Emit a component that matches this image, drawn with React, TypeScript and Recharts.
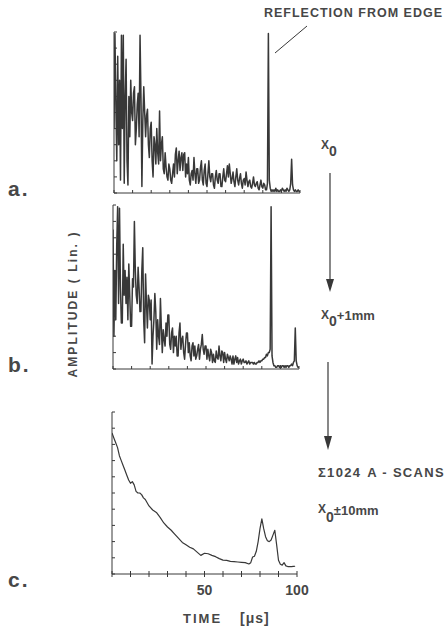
import React from 'react';
import { LineChart, Line, XAxis, YAxis } from 'recharts';

// A-scans, one sample every 0.5 µs, amplitude in % of full screen height
const SAMPLE_US = 0.5;

const scanA = [
  40, 99, 55, 20, 85, 30, 70, 8, 98, 40,
  98, 6, 60, 83, 20, 5, 60, 35, 70, 50,
  45, 62, 66, 30, 40, 55, 62, 35, 98, 60,
  4, 45, 66, 50, 35, 48, 52, 30, 22, 40,
  44, 20, 10, 35, 30, 18, 40, 25, 18, 51,
  20, 30, 35, 15, 12, 25, 16, 10, 8, 18,
  15, 8, 6, 12, 18, 10, 24, 28, 12, 20,
  26, 14, 22, 25, 14, 24, 25, 10, 18, 12,
  22, 8, 5, 12, 14, 8, 22, 12, 6, 15,
  15, 6, 8, 16, 20, 8, 5, 14, 18, 6,
  4, 12, 20, 10, 7, 12, 12, 5, 3, 10,
  14, 8, 6, 12, 12, 4, 4, 10, 15, 8,
  7, 12, 17, 10, 18, 12, 6, 9, 13, 7,
  4, 10, 15, 8, 5, 9, 12, 6, 3, 8,
  9, 5, 13, 8, 4, 7, 8, 4, 3, 6,
  10, 5, 4, 6, 7, 3, 2, 5, 8, 4,
  3, 6, 5, 2, 2, 6, 99, 8, 3, 1,
  2, 1, 2, 1, 3, 1, 2, 1, 1, 2,
  1, 3, 2, 1, 2, 1, 3, 2, 1, 2,
  6, 21, 5, 2, 1, 2, 1, 1, 2, 1,
  1,
];

const scanB = [
  85, 20, 60, 30, 75, 99, 40, 98, 50, 28,
  28, 76, 45, 60, 40, 56, 30, 64, 45, 26,
  26, 55, 50, 90, 60, 45, 40, 62, 50, 35,
  35, 60, 74, 30, 16, 58, 40, 25, 45, 42,
  30, 42, 3, 20, 30, 46, 35, 12, 30, 20,
  15, 43, 25, 10, 24, 18, 14, 28, 20, 33,
  33, 15, 12, 22, 25, 10, 20, 14, 20, 8,
  8, 22, 28, 12, 18, 20, 10, 6, 15, 22,
  22, 10, 16, 8, 5, 14, 16, 8, 14, 6,
  8, 12, 15, 6, 12, 15, 21, 12, 9, 14,
  14, 6, 12, 8, 5, 12, 10, 4, 9, 5,
  4, 11, 7, 6, 14, 8, 5, 11, 10, 4,
  10, 6, 4, 9, 7, 5, 8, 6, 3, 8,
  3, 6, 8, 4, 7, 3, 5, 6, 3, 5,
  6, 4, 4, 5, 3, 4, 5, 3, 4, 4,
  4, 3, 4, 3, 3, 4, 4, 5, 4, 5,
  5, 6, 6, 7, 7, 9, 8, 10, 10, 12,
  99, 8, 4, 2, 2, 1, 1, 2, 2, 1,
  2, 1, 2, 2, 1, 2, 1, 2, 2, 1,
  2, 2, 3, 2, 4, 5, 25, 5, 2, 1,
  1,
];

// sum of 1024 A-scans over x0 ± 10 mm
const sumTime = [
  0, 1, 2, 3, 4, 5, 6, 7, 8, 9, 10, 11, 12, 13, 14, 15, 16, 17, 18, 19, 20,
  22, 24, 26, 28, 30, 32, 34, 36, 38, 40, 42, 44, 46, 48, 50, 52, 54, 56, 58,
  60, 62, 64, 66, 68, 70, 72, 74, 75, 76, 77, 78, 79, 80, 81, 82, 83, 84, 85,
  86, 87, 88, 89, 90, 91, 92, 93, 94, 95, 96, 97, 98, 99,
];
const sumAmp = [
  87, 84, 81, 78, 73, 70, 67, 64, 61, 58, 56, 57, 55, 51, 50, 50, 49, 47, 46, 44, 42,
  39.5, 38, 35, 31.5, 29, 27, 24.5, 22, 19.5, 18, 16.5, 15.5, 13.5, 11.5, 12.8, 12.5, 11.5, 10.7, 9.5,
  8.6, 8.4, 7.8, 7.6, 7.4, 7.2, 7, 6.2, 7, 10.5, 11, 14, 20, 28, 34, 28, 23, 20.5, 20,
  21, 24, 27, 18, 8.5, 6, 5.5, 7, 5, 4.6, 4.5, 4.6, 4.7, 4.8,
];

const timeTicks = [0, 10, 20, 30, 40, 50, 60, 70, 80, 90, 100];
const ampTicks = [0, 10, 20, 30, 40, 50, 60, 70, 80, 90, 100];
const timeLabels = [50, 100];

const INK = '#383838';
const TEXT = '#474747';
const FONT = '"Liberation Sans", Arial, sans-serif';

const dataA = scanA.map((v, i) => ({ t: i * SAMPLE_US, v }));
const dataB = scanB.map((v, i) => ({ t: i * SAMPLE_US, v }));
const dataC = sumTime.map((t, i) => ({ t, v: sumAmp[i] }));

const NoLabel = () => <g />;

const TimeTick = (props: any) => {
  const { x, y, payload } = props;
  if (!timeLabels.includes(payload.value)) return <g />;
  return (
    <text
      x={x}
      y={y}
      dy="0.71em"
      textAnchor="middle"
      fontFamily={FONT}
      fontWeight="bold"
      fontSize={14}
      fill={TEXT}
    >
      {payload.value}
    </text>
  );
};

function Scan({ data, top, height, margin, width = 1.5, children }: any) {
  return (
    <div style={{ position: 'absolute', left: 0, top, width: 448, height }}>
      <LineChart width={448} height={height} data={data} margin={margin}>
        <XAxis
          xAxisId="in"
          type="number"
          dataKey="t"
          domain={[0, 100]}
          ticks={timeTicks}
          interval={0}
          allowDataOverflow
          mirror
          tick={NoLabel}
          tickSize={3}
          stroke={INK}
        />
        {children}
        <YAxis
          type="number"
          domain={[0, 100]}
          ticks={ampTicks}
          interval={0}
          allowDataOverflow
          mirror
          tick={NoLabel}
          tickSize={3}
          stroke={INK}
        />
        <Line
          xAxisId="in"
          dataKey="v"
          type="linear"
          stroke={INK}
          strokeWidth={width}
          strokeLinejoin="round"
          dot={false}
          isAnimationActive={false}
        />
      </LineChart>
    </div>
  );
}

function Notes() {
  const txt = { fontFamily: FONT, fontWeight: 'bold' as const, fill: TEXT };
  return (
    <svg
      width={448}
      height={628}
      style={{ position: 'absolute', left: 0, top: 0, pointerEvents: 'none' }}
    >
      <text x={264} y={17} fontSize={12.5} textLength={178} lengthAdjust="spacing" {...txt}>
        REFLECTION FROM EDGE
      </text>
      <line x1={307} y1={26} x2={275} y2={53} stroke={INK} strokeWidth={1} />

      <text x={8} y={196} fontSize={21} letterSpacing={2} {...txt}>a.</text>
      <text x={8} y={372} fontSize={21} letterSpacing={2} {...txt}>b.</text>
      <text x={8} y={587} fontSize={21} letterSpacing={2} {...txt}>c.</text>

      <text
        transform="translate(77,305) rotate(-90)"
        textAnchor="middle"
        fontSize={12}
        textLength={145}
        lengthAdjust="spacing"
        {...txt}
      >
        AMPLITUDE ( Lin. )
      </text>

      <text x={321} y={149} fontSize={12} {...txt}>
        X<tspan dy={7} fontSize={14}>0</tspan>
      </text>
      <line x1={330} y1={173} x2={330} y2={282} stroke={INK} strokeWidth={1.2} />
      <polygon points="330,292 326,279 334,279" fill={INK} />

      <text x={321} y={319} fontSize={12} {...txt}>
        X<tspan dy={7} fontSize={14}>0</tspan>
        <tspan dy={-6} fontSize={13}>+1mm</tspan>
      </text>
      <line x1={328} y1={362} x2={328} y2={440} stroke={INK} strokeWidth={1.2} />
      <polygon points="328,450 324,436 332,436" fill={INK} />

      <text x={318} y={477} fontSize={13} letterSpacing={1.3} {...txt}>
        Σ1024<tspan dx={6}>A - SCANS</tspan>
      </text>
      <text x={318} y={513} fontSize={12} {...txt}>
        X<tspan dy={9} fontSize={14}>0</tspan>
        <tspan dy={-7} fontSize={13}>±10mm</tspan>
      </text>

      <text x={183} y={623} fontSize={13} letterSpacing={2} {...txt}>TIME</text>
      <text x={240} y={623} fontSize={14} letterSpacing={1} {...txt}>[μs]</text>
    </svg>
  );
}

export default function App() {
  return (
    <div
      style={{
        position: 'absolute',
        left: 0,
        top: 0,
        width: 448,
        height: 628,
        background: '#ffffff',
      }}
    >
      <Scan data={dataA} top={0} height={200} margin={{ top: 32, right: 148, bottom: 7, left: 114 }} />
      <Scan data={dataB} top={190} height={185} margin={{ top: 15, right: 149, bottom: 6, left: 113 }} />
      <Scan
        data={dataC}
        top={400}
        height={200}
        width={1.2}
        margin={{ top: 12, right: 151, bottom: 2, left: 112 }}
      >
        <XAxis
          xAxisId="lab"
          type="number"
          dataKey="t"
          domain={[0, 100]}
          ticks={timeTicks}
          interval={0}
          allowDataOverflow
          axisLine={false}
          tick={TimeTick}
          tickSize={3}
          tickMargin={8}
          height={24}
          stroke={INK}
        />
      </Scan>
      <Notes />
    </div>
  );
}
